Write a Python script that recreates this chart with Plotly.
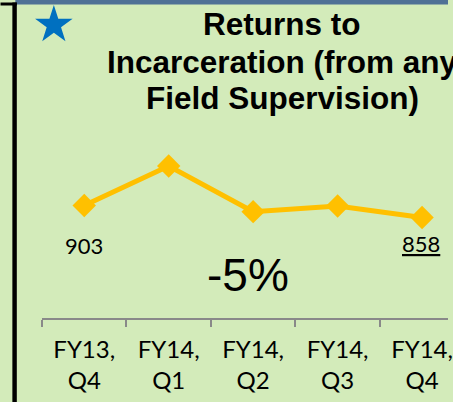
import math
import plotly.graph_objects as go

# ---- data ----
categories = ["FY13, Q4", "FY14, Q1", "FY14, Q2", "FY14, Q3", "FY14, Q4"]
tick_labels = ["FY13,<br>Q4", "FY14,<br>Q1", "FY14,<br>Q2", "FY14,<br>Q3", "FY14,<br>Q4"]
returns = [903, 1051, 880, 901, 858]
title_lines = ["Returns to", "Incarceration (from any", "Field Supervision)"]
change_text = "-5%"

# ---- layout geometry (pixels) ----
W, H = 453, 402
L, R, T, B = 42, 0, 140, 84
PW, PH = W - L - R, H - T - B
CAT_W = 85.5

def px(x):
    return (x - L) / PW

def py(y):
    return (H - B - y) / PH

BG = "#d3ebba"
LINE = "#ffc000"

fig = go.Figure()
fig.add_trace(go.Scatter(
    x=categories, y=returns, mode="lines+markers",
    line=dict(color=LINE, width=5),
    marker=dict(symbol="diamond", size=18, color=LINE),
    hoverinfo="skip", showlegend=False, cliponaxis=False,
))

# data labels for first and last points
fig.add_annotation(x=categories[0], y=returns[0], xref="x", yref="y",
                   text=str(returns[0]), showarrow=False, yshift=-40,
                   font=dict(family="Lato", size=22, color="#000"))
fig.add_annotation(x=categories[-1], y=returns[-1], xref="x", yref="y",
                   text="<u>%d</u>" % returns[-1], showarrow=False,
                   yshift=-26, xshift=-1,
                   font=dict(family="Lato", size=22, color="#000"))

# percentage change
fig.add_annotation(x=px(251), y=py(275), xref="paper", yref="paper",
                   text=change_text, showarrow=False,
                   xanchor="center", yanchor="middle",
                   font=dict(family="Liberation Sans", size=46, color="#000"))

# title (one annotation per line for tighter line spacing)
for line_text, ycen in zip(title_lines, [24, 61.5, 98]):
    fig.add_annotation(x=px(285), y=py(ycen), xref="paper", yref="paper",
                       text="<b>" + line_text + "</b>", showarrow=False,
                       xanchor="center", yanchor="middle", align="center",
                       font=dict(family="Liberation Sans", size=31.5, color="#000"))

# star
cx, cy, Ro = 54, 25, 20
Ri = Ro * 0.382
pts = []
for i in range(10):
    r = Ro if i % 2 == 0 else Ri
    a = -math.pi / 2 + i * math.pi / 5
    pts.append((px(cx + r * math.cos(a)), py(cy + r * math.sin(a))))
path = "M" + " L".join("%.5f,%.5f" % p for p in pts) + " Z"
fig.add_shape(type="path", path=path, xref="paper", yref="paper",
              fillcolor="#0070c0", line=dict(width=0))

# frame decorations
fig.add_shape(type="rect", xref="paper", yref="paper",
              x0=px(15), x1=px(W), y0=py(0), y1=py(4.5),
              fillcolor="#4f7196", line=dict(width=0))
fig.add_shape(type="rect", xref="paper", yref="paper",
              x0=px(0), x1=px(16.5), y0=py(2.5), y1=py(5.5),
              fillcolor="#000", line=dict(width=0))
fig.add_shape(type="rect", xref="paper", yref="paper",
              x0=px(12), x1=px(16.5), y0=py(2.5), y1=py(H),
              fillcolor="#000", line=dict(width=0))

ylo = 903 - (318 - 205.5) * 3.75
yhi = 903 + (205.5 - 140) * 3.75

fig.update_layout(
    width=W, height=H,
    margin=dict(l=L, r=R, t=T, b=B, pad=0),
    paper_bgcolor=BG, plot_bgcolor=BG,
    xaxis=dict(type="category", range=[-0.5, -0.5 + PW / CAT_W],
               tickmode="array", tickvals=categories, ticktext=tick_labels,
               tickson="boundaries", ticks="outside", ticklen=7,
               tickwidth=2, tickcolor="#898989",
               showline=True, linecolor="#898989", linewidth=2,
               showgrid=False, zeroline=False, ticklabelstandoff=9,
               tickfont=dict(family="Lato", size=24, color="#000"),
               fixedrange=True),
    yaxis=dict(range=[ylo, yhi], visible=False, fixedrange=True),
)

fig.write_html(
    "out.html",
    config={"displayModeBar": False},
    post_script="document.body.style.margin='0';document.body.style.overflow='hidden';",
)
